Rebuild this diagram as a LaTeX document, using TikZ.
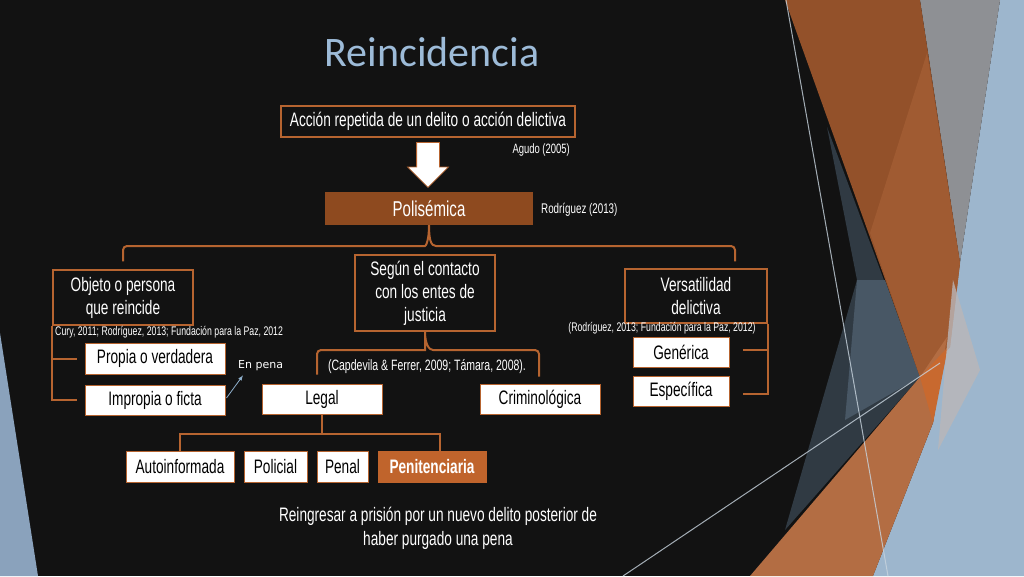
\documentclass[tikz,border=0pt]{standalone}
\usepackage{fontspec}
\setmainfont[FakeStretch=0.7]{Liberation Sans}
\newfontfamily\fuentetitulo{Carlito}
\newfontfamily\fuentepena{DejaVu Sans}
\usetikzlibrary{arrows,positioning,calc,shapes.arrows}

\definecolor{fondo}{RGB}{18,18,18}
\definecolor{naranja}{RGB}{182,100,48}
\definecolor{marron}{RGB}{142,74,31}
\definecolor{penitcol}{RGB}{192,100,44}
\definecolor{celeste}{RGB}{157,187,216}
\definecolor{acero}{RGB}{143,176,204}
\definecolor{azulgris}{RGB}{138,162,188}
\definecolor{azulclaro}{RGB}{157,182,205}
\definecolor{gris}{RGB}{142,144,148}
\definecolor{pizarra}{RGB}{48,58,67}
\definecolor{pizarraclara}{RGB}{72,87,101}
\definecolor{ocre}{RGB}{147,81,42}
\definecolor{ocreclaro}{RGB}{160,91,50}
\definecolor{cobre}{RGB}{179,109,67}
\definecolor{cobrevivo}{RGB}{200,105,47}
\definecolor{melocoton}{RGB}{186,182,184}
\definecolor{lineablanca}{RGB}{200,212,222}

\tikzset{
  caja/.style={draw=naranja, line width=1.2pt, fill=fondo, text=white, inner sep=0pt, align=center, font=\fontsize{19.5}{23}\selectfont},
  blanca/.style={draw=naranja, line width=1pt, fill=white, text=black, inner sep=0pt, minimum height=30pt, font=\fontsize{19.5}{22}\selectfont},
  rama/.style={draw=naranja, line width=2pt},
  cita/.style={text=white, inner sep=0pt, font=\fontsize{12.5}{14}\selectfont}
}

\begin{document}
\begin{tikzpicture}[x=1pt, y=-1pt, node distance=9pt]

\useasboundingbox (0,0) rectangle (1024,576);

% fondo
\fill[fondo] (0,0) rectangle (1024,576);
\fill[azulgris] (0,333) -- (38,576) -- (0,576) -- cycle;
\fill[azulclaro] (1000,0) -- (1024,0) -- (1024,576) -- (873,576) -- (933,423) -- (960,263) -- cycle;
\fill[gris] (920,0) -- (1000,0) -- (960,263) -- cycle;
\fill[pizarra] (827,127) -- (920,377) -- (785,530) -- (857,280) -- cycle;
\fill[pizarraclara] (857,280) -- (885,280) -- (920,377) -- (845,420) -- cycle;
\fill[ocre] (785,0) -- (920,0) -- (960,263) -- (950,347) -- (920,377) -- cycle;
\fill[ocreclaro] (927,53) -- (960,263) -- (950,347) -- (920,377) -- (870,233) -- cycle;
\fill[cobre] (947,337) -- (933,423) -- (873,576) -- (750,576) -- (920,377) -- cycle;
\fill[cobrevivo] (920,377) -- (948,347) -- (933,423) -- cycle;
\fill[melocoton, opacity=.8] (953,280) -- (980,370) -- (938,450) -- (947,345) -- cycle;
\draw[lineablanca, line width=1pt, opacity=.8] (786,0) -- (888,576);
\draw[lineablanca, line width=1pt, opacity=.8] (623,576) -- (940,363);

\node(titulo)[text=celeste, font=\fuentetitulo\fontsize{42}{50}\selectfont] at (432,52) {Reincidencia};

\node(acc)[caja, minimum width=294pt, minimum height=31pt] at (428,121.5) {Acción repetida de un delito o acción delictiva};

\node(agudo)[cita, anchor=east, font=\fontsize{13.5}{15}\selectfont] at (570,150) {Agudo (2005)};

\node(flecha)[single arrow, rotate=-90, anchor=tail, draw=naranja, fill=white, line width=0.8pt, inner sep=11pt, single arrow head extend=9pt, minimum height=45pt] at (428,142) {};

\node(pol)[fill=marron, text=white, minimum width=208pt, minimum height=33pt, inner sep=0pt, font=\fontsize{21.5}{24}\selectfont] at (429,208.5) {Polisémica};

\node(rodri)[cita, anchor=west, font=\fontsize{14}{15}\selectfont] at (541,210) {Rodríguez (2013)};

\node(obj)[caja, minimum width=140pt, minimum height=55pt] at (123,297.5) {Objeto o persona\\que reincide};

\node(seg)[caja, minimum width=140pt, minimum height=76pt] at (425,293) {Según el contacto\\con los entes de\\justicia};

\node(ver)[caja, minimum width=142pt, minimum height=54pt] at (696,296) {Versatilidad\\delictiva};

\node(cita1)[cita, anchor=west] at (55,332) {Cury, 2011; Rodríguez, 2013; Fundación para la Paz, 2012};

\node(cita2)[cita] at (662,328) {(Rodríguez, 2013; Fundación para la Paz, 2012)};

\node(cita3)[cita, font=\fontsize{15}{16}\selectfont] at (427,367) {(Capdevila \& Ferrer, 2009; Támara, 2008).};

\node(propia)[blanca, minimum width=140pt, minimum height=31pt] at (155,358.5) {Propia o verdadera};

\node(impropia)[blanca, minimum width=140pt, below = 10pt of propia] {Impropia o ficta};

\node(pena)[text=white, inner sep=1pt, anchor=west, font=\fuentepena\fontsize{11}{13}\selectfont] at (237,366) {En pena};

\node(legal)[blanca, minimum width=120pt] at (322,399) {Legal};

\node(crim)[blanca, minimum width=120pt] at (540,399) {Criminológica};

\node(gen)[blanca, minimum width=96pt] at (681,352) {Genérica};

\node(esp)[blanca, minimum width=96pt, below = 8pt of gen] {Específica};

\node(auto)[blanca, minimum width=108pt, minimum height=31pt] at (180,466.5) {Autoinformada};

\node(poli)[blanca, minimum width=63pt, minimum height=31pt, right = 9pt of auto] {Policial};

\node(penal)[blanca, minimum width=51pt, minimum height=31pt, right = 9pt of poli] {Penal};

\node(penit)[blanca, fill=penitcol, draw=penitcol, text=white, font=\bfseries\fontsize{19.5}{22}\selectfont, minimum width=108pt, minimum height=31pt, right = 9pt of penal] {Penitenciaria};

\node(reing)[text=white, align=center, font=\fontsize{19.5}{24}\selectfont] at (438,528) {Reingresar a prisión por un nuevo delito posterior de\\haber purgado una pena};

% llaves
\draw[rama] ($(obj.north)+(0,-8)$) [rounded corners=4pt] -- (123,246) -- (421,246) [sharp corners] .. controls (426,246) and (429,240) .. (pol.south) .. controls (429,240) and (431,246) .. (436,246) [rounded corners=4pt] -- (735,246) -- ($(ver.north)+(39,-7)$);

\draw[rama] ($(legal.north)+(-5,-9)$) [rounded corners=4pt] |- (421,350) [sharp corners] .. controls (425,350) and (425,344) .. (seg.south) .. controls (425,344) and (429,350) .. (433,350) [rounded corners=4pt] -| ($(crim.north)+(-1,-7)$);

% ramas
\draw[rama] (obj.south west) |- ($(impropia.west)+(-8,0)$);
\draw[rama] (obj.south west |- propia.west) -- ($(propia.west)+(-8,0)$);

\draw[rama] (ver.south east) |- ($(esp.east)+(13,3)$);
\draw[rama] ($(ver.south east |- gen.east)+(0,-2)$) -- ($(gen.east)+(13,-2)$);

\coordinate(bus) at ($(legal.south)+(0,19)$);
\draw[rama] (legal.south) -- (bus);
\draw[rama] (auto.north) |- (bus);
\draw[rama] ($(penit.north)+(8,0)$) |- (bus);

\draw[-latex, acero, line width=0.8pt] ($(impropia.east)+(1,-2)$) -- ($(pena.south west)+(6,3)$);

\end{tikzpicture}
\end{document}
